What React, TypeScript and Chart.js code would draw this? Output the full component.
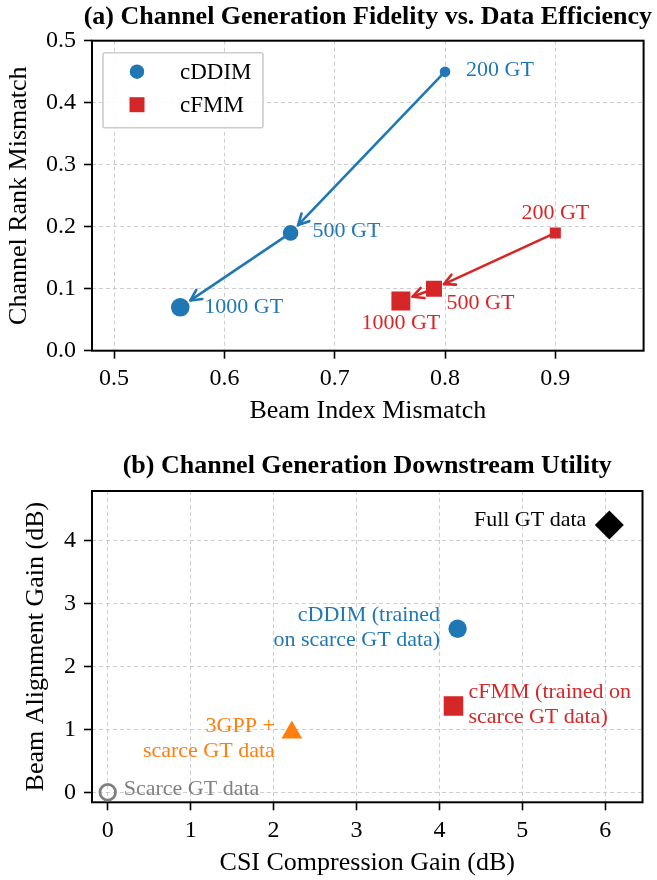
import React, { useEffect, useRef } from 'react';
import { Chart, registerables } from 'chart.js';

Chart.register(...registerables);

// ---------- data: (a) fidelity vs data efficiency ----------
const fidelityModels = ['cDDIM', 'cFMM'];
const gtLabels = ['200 GT', '500 GT', '1000 GT'];
const cddimBeamMismatch = [0.8, 0.66, 0.56];
const cddimRankMismatch = [0.45, 0.19, 0.07];
const cfmmBeamMismatch = [0.9, 0.79, 0.76];
const cfmmRankMismatch = [0.19, 0.1, 0.08];
const aXTicks = [0.5, 0.6, 0.7, 0.8, 0.9];
const aYTicks = [0.0, 0.1, 0.2, 0.3, 0.4, 0.5];

// ---------- data: (b) downstream utility ----------
const utilityMethods = [
  'Scarce GT data',
  '3GPP +\nscarce GT data',
  'cDDIM (trained\non scarce GT data)',
  'cFMM (trained on\nscarce GT data)',
  'Full GT data',
];
const csiCompressionGain = [0, 2.22, 4.22, 4.17, 6.05];
const beamAlignmentGain = [0, 0.95, 2.6, 1.37, 4.25];
const bXTicks = [0, 1, 2, 3, 4, 5, 6];
const bYTicks = [0, 1, 2, 3, 4];

// ---------- styles ----------
const FONT = "'Liberation Serif', 'Times New Roman', Times, serif";
const BLUE = '#1f77b4';
const RED = '#d62728';
const ORANGE = '#ff7f0e';
const GRAY = '#808080';
const TICK_PX = 24;
const AXIS_TITLE_PX = 26;
const ANNOT_PX = 22;
const LEGEND_PX = 23;
const TITLE_PX = 26;
const CANVAS_W = 657;
const CANVAS_H = 440;
const GRID_COLOR = 'rgba(190,190,190,0.75)';

type Annot = { ds: number; idx: number; text: string; color: string; dx: number; dy: number; align: CanvasTextAlign };

const titlePlugin = (text: string, y: number) => ({
  id: 'customTitle',
  afterDraw(chart: any) {
    const { ctx, chartArea } = chart;
    ctx.save();
    ctx.font = `bold ${TITLE_PX}px ${FONT}`;
    ctx.fillStyle = '#000';
    ctx.textAlign = 'center';
    ctx.textBaseline = 'middle';
    ctx.fillText(text, (chartArea.left + chartArea.right) / 2, y);
    ctx.restore();
  },
});

const framePlugin = {
  id: 'frame',
  beforeDatasetsDraw(chart: any) {
    const { ctx, chartArea: a } = chart;
    ctx.save();
    ctx.strokeStyle = '#000';
    ctx.lineWidth = 2;
    ctx.strokeRect(a.left, a.top, a.right - a.left, a.bottom - a.top);
    ctx.restore();
  },
};

const annotationPlugin = (annots: Annot[]) => ({
  id: 'annots',
  afterDatasetsDraw(chart: any) {
    const { ctx } = chart;
    ctx.save();
    ctx.font = `${ANNOT_PX}px ${FONT}`;
    ctx.textBaseline = 'middle';
    const lh = ANNOT_PX * 1.12;
    for (const a of annots) {
      const el = chart.getDatasetMeta(a.ds).data[a.idx];
      if (!el) continue;
      const lines = a.text.split('\n');
      ctx.fillStyle = a.color;
      ctx.textAlign = a.align;
      const y0 = el.y + a.dy - ((lines.length - 1) * lh) / 2;
      lines.forEach((ln, k) => ctx.fillText(ln, el.x + a.dx, y0 + k * lh));
    }
    ctx.restore();
  },
});

// arrow from one sample size to the next, head at the target marker edge
const arrowPlugin = (colors: string[], halfSizes: number[][]) => ({
  id: 'arrows',
  beforeDatasetsDraw(chart: any) {
    const { ctx } = chart;
    ctx.save();
    ctx.lineCap = 'round';
    ctx.lineJoin = 'round';
    colors.forEach((color, ds) => {
      const pts = chart.getDatasetMeta(ds).data;
      for (let j = 0; j + 1 < pts.length; j++) {
        const p0 = pts[j];
        const p1 = pts[j + 1];
        const dx = p1.x - p0.x;
        const dy = p1.y - p0.y;
        const len = Math.hypot(dx, dy);
        const ux = dx / len;
        const uy = dy / len;
        const gap = halfSizes[ds][j + 1] + 3;
        const tx = p1.x - ux * gap;
        const ty = p1.y - uy * gap;
        ctx.strokeStyle = color;
        ctx.lineWidth = 2.6;
        ctx.beginPath();
        ctx.moveTo(p0.x, p0.y);
        ctx.lineTo(tx, ty);
        ctx.stroke();
        const hl = 12;
        const ang = (27 * Math.PI) / 180;
        const base = Math.atan2(-uy, -ux);
        ctx.beginPath();
        ctx.moveTo(tx + hl * Math.cos(base + ang), ty + hl * Math.sin(base + ang));
        ctx.lineTo(tx, ty);
        ctx.lineTo(tx + hl * Math.cos(base - ang), ty + hl * Math.sin(base - ang));
        ctx.stroke();
      }
    });
    ctx.restore();
  },
});

const legendPlugin = {
  id: 'boxLegend',
  afterDraw(chart: any) {
    const { ctx, chartArea: a } = chart;
    const x = a.left + 11;
    const y = a.top + 12;
    const w = 160;
    const h = 75;
    ctx.save();
    ctx.fillStyle = 'rgba(255,255,255,0.85)';
    ctx.strokeStyle = '#cccccc';
    ctx.lineWidth = 1.6;
    ctx.beginPath();
    ctx.roundRect(x, y, w, h, 2);
    ctx.fill();
    ctx.stroke();
    const colors = [BLUE, RED];
    fidelityModels.forEach((name, i) => {
      const cy = y + 19 + i * 33;
      const cx = x + 34;
      ctx.fillStyle = colors[i];
      if (i === 0) {
        ctx.beginPath();
        ctx.arc(cx, cy, 7.2, 0, Math.PI * 2);
        ctx.fill();
      } else {
        ctx.fillRect(cx - 7.5, cy - 7.5, 15, 15);
      }
      ctx.fillStyle = '#000';
      ctx.font = `${LEGEND_PX}px ${FONT}`;
      ctx.textAlign = 'left';
      ctx.textBaseline = 'middle';
      ctx.fillText(name, x + 77, cy + 1);
    });
    ctx.restore();
  },
};

const gridOpts = {
  color: GRID_COLOR,
  lineWidth: 1,
  drawTicks: true,
  tickLength: 8,
  tickColor: '#000',
  tickWidth: 1.6,
};
const borderOpts = { display: false, dash: [4, 3] };
const tickFont = { family: FONT, size: TICK_PX, lineHeight: 1.2 };
const titleFont = { family: FONT, size: AXIS_TITLE_PX, lineHeight: 1.2 };

function configA(): any {
  const cddimSizes = [5.3, 7.8, 9.3];
  const cfmmSizes = [7.8, 11.3, 13.4];
  const annots: Annot[] = [
    { ds: 0, idx: 0, text: gtLabels[0], color: BLUE, dx: 21, dy: -1, align: 'left' },
    { ds: 0, idx: 1, text: gtLabels[1], color: BLUE, dx: 22, dy: -1.5, align: 'left' },
    { ds: 0, idx: 2, text: gtLabels[2], color: BLUE, dx: 24, dy: 0, align: 'left' },
    { ds: 1, idx: 0, text: gtLabels[0], color: RED, dx: 0, dy: -19.5, align: 'center' },
    { ds: 1, idx: 1, text: gtLabels[1], color: RED, dx: 12.5, dy: 14.5, align: 'left' },
    { ds: 1, idx: 2, text: gtLabels[2], color: RED, dx: 0, dy: 22.5, align: 'center' },
  ];
  return {
    type: 'scatter',
    data: {
      datasets: [
        {
          label: fidelityModels[0],
          data: cddimBeamMismatch.map((x, i) => ({ x, y: cddimRankMismatch[i] })),
          pointStyle: 'circle',
          pointRadius: cddimSizes,
          pointBackgroundColor: BLUE,
          pointBorderColor: BLUE,
          pointBorderWidth: 0,
        },
        {
          label: fidelityModels[1],
          data: cfmmBeamMismatch.map((x, i) => ({ x, y: cfmmRankMismatch[i] })),
          pointStyle: 'rect',
          pointRadius: cfmmSizes,
          pointBackgroundColor: RED,
          pointBorderColor: RED,
          pointBorderWidth: 0,
        },
      ],
    },
    options: {
      animation: false,
      responsive: false,
      events: [],
      layout: { padding: { top: 40.7, right: 12, left: 0, bottom: 0 } },
      plugins: { legend: { display: false }, tooltip: { enabled: false } },
      scales: {
        x: {
          type: 'linear',
          min: 0.48,
          max: 0.98,
          afterBuildTicks: (s: any) => {
            s.ticks = aXTicks.map((v) => ({ value: v }));
          },
          afterFit: (s: any) => {
            s.height = CANVAS_H - 350.7;
          },
          grid: gridOpts,
          border: borderOpts,
          ticks: { font: tickFont, color: '#000', padding: 6, maxRotation: 0, callback: (v: any) => Number(v).toFixed(1) },
          title: {
            display: true,
            text: 'Beam Index Mismatch',
            font: titleFont,
            color: '#000',
            padding: { top: 0, bottom: CANVAS_H - (AXIS_TITLE_PX * 1.2) / 2 - 411 },
          },
        },
        y: {
          type: 'linear',
          min: 0,
          max: 0.5,
          afterBuildTicks: (s: any) => {
            s.ticks = aYTicks.map((v) => ({ value: v }));
          },
          afterFit: (s: any) => {
            s.width = 92;
          },
          grid: gridOpts,
          border: borderOpts,
          ticks: { font: tickFont, color: '#000', padding: 8, callback: (v: any) => Number(v).toFixed(1) },
          title: {
            display: true,
            text: 'Channel Rank Mismatch',
            font: titleFont,
            color: '#000',
            padding: { top: 19 - (AXIS_TITLE_PX * 1.2) / 2, bottom: 0 },
          },
        },
      },
    },
    plugins: [
      framePlugin,
      arrowPlugin([BLUE, RED], [cddimSizes, cfmmSizes.map((r) => r * Math.SQRT1_2)]),
      annotationPlugin(annots),
      titlePlugin('(a) Channel Generation Fidelity vs. Data Efficiency', 17),
      legendPlugin,
    ],
  };
}

function configB(): any {
  const annots: Annot[] = [
    { ds: 0, idx: 0, text: utilityMethods[0], color: GRAY, dx: 16, dy: -3, align: 'left' },
    { ds: 0, idx: 1, text: utilityMethods[1], color: ORANGE, dx: -17, dy: 6, align: 'right' },
    { ds: 0, idx: 2, text: utilityMethods[2], color: BLUE, dx: -17.5, dy: -1, align: 'right' },
    { ds: 0, idx: 3, text: utilityMethods[3], color: RED, dx: 15, dy: -1.5, align: 'left' },
    { ds: 0, idx: 4, text: utilityMethods[4], color: '#000', dx: -23, dy: -4.5, align: 'right' },
  ];
  return {
    type: 'scatter',
    data: {
      datasets: [
        {
          label: 'Downstream utility',
          data: csiCompressionGain.map((x, i) => ({ x, y: beamAlignmentGain[i] })),
          pointStyle: ['circle', 'triangle', 'circle', 'rect', 'rectRot'],
          pointRadius: [7.8, 12, 9.2, 13.8, 14.5],
          pointBackgroundColor: ['rgba(0,0,0,0)', ORANGE, BLUE, RED, '#000'],
          pointBorderColor: [GRAY, ORANGE, BLUE, RED, '#000'],
          pointBorderWidth: [2.8, 0, 0, 0, 0],
        },
      ],
    },
    options: {
      animation: false,
      responsive: false,
      events: [],
      layout: { padding: { top: 51, right: 12, left: 0, bottom: 0 } },
      plugins: { legend: { display: false }, tooltip: { enabled: false } },
      scales: {
        x: {
          type: 'linear',
          min: -0.19,
          max: 6.45,
          afterBuildTicks: (s: any) => {
            s.ticks = bXTicks.map((v) => ({ value: v }));
          },
          afterFit: (s: any) => {
            s.height = CANVAS_H - 362.3;
          },
          grid: gridOpts,
          border: borderOpts,
          ticks: { font: tickFont, color: '#000', padding: 6, maxRotation: 0, callback: (v: any) => String(v) },
          title: {
            display: true,
            text: 'CSI Compression Gain (dB)',
            font: titleFont,
            color: '#000',
            padding: { top: 0, bottom: CANVAS_H - (AXIS_TITLE_PX * 1.2) / 2 - 423 },
          },
        },
        y: {
          type: 'linear',
          min: -0.16,
          max: 4.79,
          afterBuildTicks: (s: any) => {
            s.ticks = bYTicks.map((v) => ({ value: v }));
          },
          afterFit: (s: any) => {
            s.width = 92;
          },
          grid: gridOpts,
          border: borderOpts,
          ticks: { font: tickFont, color: '#000', padding: 8, callback: (v: any) => String(v) },
          title: {
            display: true,
            text: 'Beam Alignment Gain (dB)',
            font: titleFont,
            color: '#000',
            padding: { top: 36 - (AXIS_TITLE_PX * 1.2) / 2, bottom: 0 },
          },
        },
      },
    },
    plugins: [
      framePlugin,
      annotationPlugin(annots),
      titlePlugin('(b) Channel Generation Downstream Utility', 26.7),
    ],
  };
}

export default function App() {
  const aRef = useRef<HTMLCanvasElement>(null);
  const bRef = useRef<HTMLCanvasElement>(null);
  useEffect(() => {
    const a = new Chart(aRef.current as HTMLCanvasElement, configA());
    const b = new Chart(bRef.current as HTMLCanvasElement, configB());
    return () => {
      a.destroy();
      b.destroy();
    };
  }, []);
  return (
    <div style={{ position: 'absolute', left: 0, top: 0, width: CANVAS_W, height: 880, background: '#fff' }}>
      <canvas ref={aRef} width={CANVAS_W} height={CANVAS_H} style={{ position: 'absolute', left: 0, top: 0 }} />
      <canvas ref={bRef} width={CANVAS_W} height={CANVAS_H} style={{ position: 'absolute', left: 0, top: CANVAS_H }} />
    </div>
  );
}
